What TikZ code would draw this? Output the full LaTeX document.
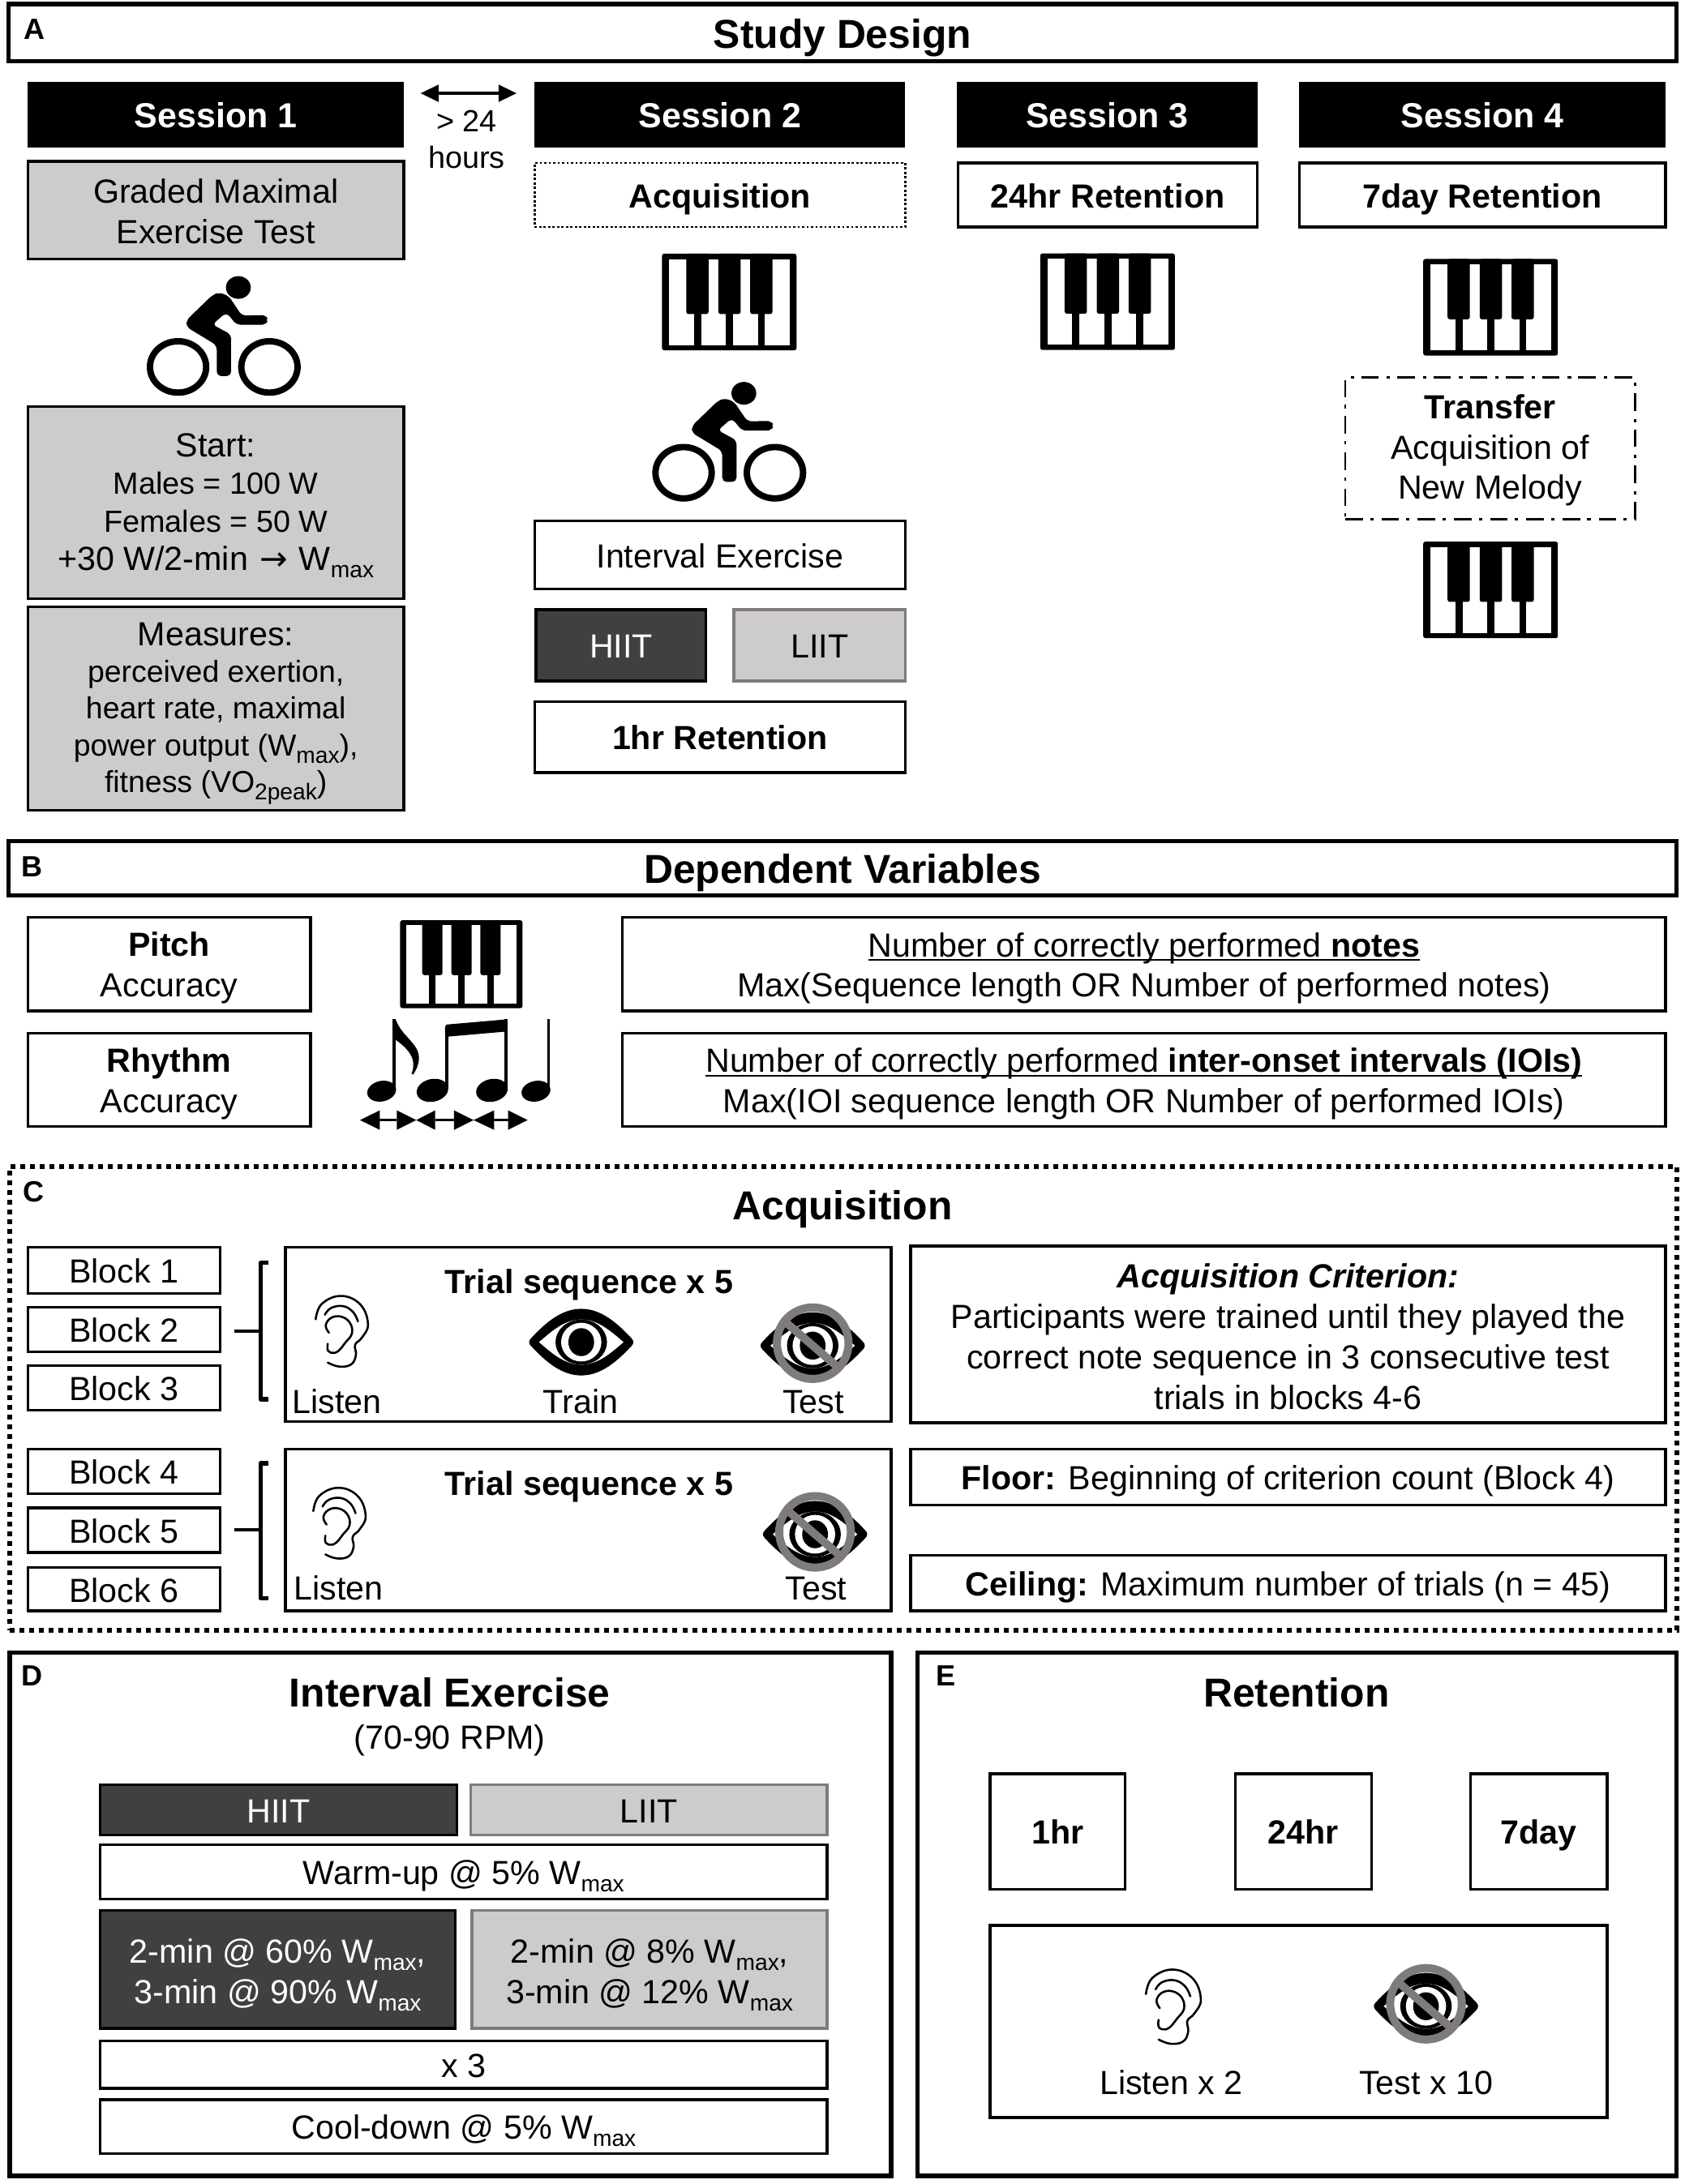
\documentclass[tikz,border=0pt]{standalone}
\usepackage{fontspec}
\setmainfont{Liberation Sans}
\newfontfamily\arrowfont{DejaVu Sans}
\usetikzlibrary{arrows.meta}
\definecolor{lightbox}{HTML}{CDCBCB}
\definecolor{darkbox}{HTML}{404040}
\definecolor{ringgray}{HTML}{7F7B7B}
\newcommand{\fsz}[1]{\fontsize{#1}{14.5}\selectfont}
\newcommand{\lowtxt}[1]{\smash{\raisebox{-2.6pt}{\fontsize{8.2}{8.2}\selectfont #1}}}
\newcommand{\wmax}{W\lowtxt{max}}
\newcommand{\linetop}{\leavevmode\vphantom{Ay}\rule{0pt}{0.967em}}
\newcommand{\lineh}{\leavevmode\vphantom{Ay}}
\newcommand{\mtop}[1]{\rule{0pt}{#1pt}}
\newcommand{\ulin}[1]{\leavevmode\setbox0\hbox{#1}\rlap{\raisebox{-1.5pt}{\rule{\wd0}{0.55pt}}}\box0 }
\newcommand{\bx}[7]{\node[#1, minimum width={(#5-#3)*0.5pt}, minimum height={(#6-#4)*0.5pt}] (#2) at ({(#3+#5)/2},{(#4+#6)/2}) {#7};}
\newcommand{\pianoicon}[3]{\begin{scope}[shift={(#1,#2)},scale=#3]
\fill[rounded corners=0.8pt] (0,0) rectangle (453,325);
\fill[white] (24,18) rectangle (430,308);
\foreach \k in {82,190,297}{\fill[rounded corners=0.8pt] (\k,0) rectangle ({\k+75},203);
\fill ({\k+26},190) rectangle ({\k+50},310);}
\end{scope}}
\newcommand{\bikeicon}[2]{\begin{scope}[shift={(#1,#2)},scale=0.1941]
\draw[line width=2.3pt] (209,398) circle[x radius=104,y radius=95];
\draw[line width=2.3pt] (547,398) circle[x radius=104,y radius=95];
\fill (432,104) circle[x radius=46,y radius=42];
\fill[rounded corners=1.6pt] (360,122) -- (396,135) -- (445,208) -- (535,206) -- (541,224) -- (535,242) -- (425,242) -- (388,196) -- (336,241) -- (405,278) -- (405,432) -- (352,432) -- (352,318) -- (240,250) -- (240,225) -- (335,133) -- cycle;
\end{scope}}
\newcommand{\eyeicon}[2]{\begin{scope}[shift={(#1,#2)},xscale=0.289,yscale=0.193]
\fill (-125,-14) .. controls (-90,-70) and (-50,-124) .. (0,-124) .. controls (50,-124) and (90,-70) .. (125,-14) .. controls (131,-5) and (131,5) .. (125,14) .. controls (90,70) and (50,124) .. (0,124) .. controls (-50,124) and (-90,70) .. (-125,14) .. controls (-131,5) and (-131,-5) .. (-125,-14) -- cycle;
\fill[white] (-105,0) .. controls (-70,-45) and (-40,-84) .. (0,-84) .. controls (40,-84) and (70,-45) .. (105,0) .. controls (70,45) and (40,84) .. (0,84) .. controls (-40,84) and (-70,45) .. (-105,0) -- cycle;
\fill (0,0) circle[x radius=64,y radius=84];
\fill[white] (0,0) circle[x radius=50,y radius=72];
\fill (0,0) circle[x radius=32,y radius=52];
\end{scope}}
\newcommand{\noeyeicon}[2]{\eyeicon{#1}{#2}
\begin{scope}[shift={(#1,#2)},xscale=0.289,yscale=0.193]
\draw[ringgray,line width=2.9pt] (0,-9) circle[x radius=89,y radius=133];
\draw[ringgray,line width=2.9pt] (-68,-88) -- (66,85);
\end{scope}}
\newcommand{\earicon}[3]{\begin{scope}[shift={(#1,#2)},xscale={0.289*#3},yscale={0.193*#3},shift={(-160,-310)},line width=0.75pt,line cap=round]
\draw plot[smooth,tension=.7] coordinates {(97,267) (112,210) (160,180) (208,212) (227,285) (212,335) (195,362) (197,400) (185,435) (155,443) (127,428)};
\draw plot[smooth,tension=.7] coordinates {(120,250) (135,225) (165,218) (190,240) (202,275)};
\draw plot[smooth,tension=.7] coordinates {(130,317) (122,290) (135,262) (160,257) (182,280) (187,320) (170,355) (160,375) (145,392) (128,385) (127,358)};
\end{scope}}
\newcommand{\notesicon}{\begin{scope}[shift={(232.9,640.5)},scale=0.1941]
\fill (212,738) circle[x radius=54,y radius=38,rotate=12];
\fill (252,472) rectangle (264,735);
\fill (264,472) .. controls (285,535) and (350,560) .. (350,615) .. controls (350,640) and (340,660) .. (328,677) -- (323,673) .. controls (335,640) and (338,600) .. (264,548) -- cycle;
\fill (400,735) circle[x radius=59,y radius=42,rotate=12];
\fill (447,500) rectangle (459,730);
\fill (620,735) circle[x radius=59,y radius=42,rotate=12];
\fill (665,472) rectangle (677,730);
\fill[rounded corners=0.8pt] (447,492) -- (677,472) -- (677,517) -- (447,537) -- cycle;
\fill (783,738) circle[x radius=54,y radius=38,rotate=12];
\fill (824,472) rectangle (835,735);
\foreach \a/\b/\c/\d in {132/205/268/340,340/410/480/552,552/628/680/752}{
\fill (\a,845) -- (\b,809) -- (\b,881) -- cycle;
\fill (\d,845) -- (\c,809) -- (\c,881) -- cycle;
\fill (\b,841) rectangle (\c,849);}
\end{scope}}
\begin{document}
\begin{tikzpicture}[x=0.5pt,y=-0.5pt,
 every node/.style={inner sep=0pt,outer sep=0pt,align=center,font=\fsz{12},execute at begin node=\linetop,execute at end node=\lineh},
 panel/.style={draw=black,line width=1.6pt,fill=white},
 plain/.style={draw=black,line width=1pt,fill=white},
 head/.style={fill=black,text=white,font=\fsz{12.5}\bfseries},
 graybox/.style={draw=black,line width=1pt,fill=lightbox},
 darkcell/.style={draw=black,line width=1pt,fill=darkbox,text=white},
 lightcellb/.style={draw=ringgray,line width=1pt,fill=lightbox},
 dottedbox/.style={draw=black,line width=0.8pt,dash pattern=on 0.8pt off 0.8pt},
 dashdotbox/.style={draw=black,line width=0.85pt,dash pattern=on 6.3pt off 2.6pt on 1.2pt off 2.9pt},
 outerdotted/.style={draw=black,line width=1.75pt,dash pattern=on 1.75pt off 1.75pt},
 titletext/.style={font=\fsz{14.5}\bfseries},
 letter/.style={font=\fsz{10.5}\bfseries},
 bracket/.style={line width=1.5pt,line join=round},
 barstub/.style={line width=1.1pt},
 twoway/.style={line width=1pt,{Triangle[length=6.5pt,width=6pt]}-{Triangle[length=6.5pt,width=6pt]}}]
\useasboundingbox (0,0) rectangle (1210,1568.7);
\fill[white] (0,0) rectangle (1210,1568.7);
% ---------- A
\bx{panel,titletext}{headA}{6}{3}{1204}{44}{Study Design}
\node[letter] (letA) at (25,20) {A};
\bx{head}{s1}{20}{59}{290}{106}{Session 1}
\bx{head}{s2}{384}{59}{650}{106}{Session 2}
\bx{head}{s3}{687}{59}{903}{106}{Session 3}
\bx{head}{s4}{933}{59}{1196}{106}{Session 4}
\coordinate (gapL) at (302,67);
\coordinate (gapR) at (371,67);
\draw[twoway] (gapL) -- (gapR);
\node[font=\fontsize{11}{13}\selectfont] (gaptext) at (335,99) {\mtop{10.9}> 24\\hours};
\bx{graybox}{graded}{20}{116}{290}{186}{\mtop{11.7}Graded Maximal\\Exercise Test}
\bikeicon{87.3}{186.3}
\bx{graybox,font=\fsz{11}}{start}{20}{292}{290}{430}{\mtop{10.3}{\fsz{12}Start:}\\[-1pt]Males = 100 W\\[-1pt]Females = 50 W\\[-0.6pt]{\fsz{12}+30 W/2-min\hspace{0.8pt} {\arrowfont→}\hspace{0.8pt} \wmax}}
\bx{graybox,font=\fsz{10.9}}{measures}{20}{436}{290}{582}{\mtop{9.6}{\fsz{12}Measures:}\\[-1.3pt]perceived exertion,\\[-1.3pt]heart rate, maximal\\[-1.3pt]power output (\wmax),\\[-1.3pt]fitness (VO\lowtxt{2peak})}
\bx{dottedbox,font=\fsz{12}\bfseries}{acq}{384}{117}{650}{163}{Acquisition}
\bx{plain,font=\fsz{12}\bfseries}{ret24}{688}{117}{903}{163}{24hr Retention}
\bx{plain,font=\fsz{12}\bfseries}{ret7}{933}{117}{1196}{163}{7day Retention}
\pianoicon{475.3}{182.2}{0.2135}
\bikeicon{450.3}{262.3}
\bx{plain}{interval}{384}{374}{650}{423}{Interval Exercise}
\bx{darkcell}{hiitA}{385}{438}{507}{489}{HIIT}
\bx{lightcellb}{liitA}{527}{438}{650}{489}{LIIT}
\bx{plain,font=\fsz{12}\bfseries}{ret1}{384}{504}{650}{555}{1hr Retention}
\pianoicon{747}{182}{0.2135}
\pianoicon{1022}{186}{0.2135}
\bx{dashdotbox}{transfer}{966}{271}{1174}{373}{\mtop{10.1}\textbf{Transfer}\\Acquisition of\\New Melody}
\pianoicon{1022}{389}{0.2135}
% ---------- B
\bx{panel,titletext}{headB}{6}{604}{1204}{643}{Dependent Variables}
\node[letter] (letB) at (23,622) {B};
\bx{plain}{pitch}{20}{659}{223}{726}{\mtop{11.2}\textbf{Pitch}\\Accuracy}
\bx{plain}{rhythm}{20}{742}{223}{809}{\mtop{11.6}\textbf{Rhythm}\\Accuracy}
\pianoicon{287.3}{661}{0.1941}
\notesicon
\bx{plain}{pitchf}{447}{659}{1196}{726}{\mtop{11.6}\ulin{Number of correctly performed \textbf{notes}}\\Max(Sequence length OR Number of performed notes)}
\bx{plain}{rhythmf}{447}{742}{1196}{809}{\mtop{11.6}\ulin{Number of correctly performed \textbf{inter-onset intervals (IOIs)}}\\Max(IOI sequence length OR Number of performed IOIs)}
% ---------- C
\bx{outerdotted}{panelC}{7}{838}{1204}{1171}{}
\node[letter] (letC) at (24,855) {C};
\node[titletext] (titleC) at (605,865) {Acquisition};
\bx{plain}{b1}{20}{896}{158}{929}{Block 1}
\bx{plain}{b2}{20}{939}{158}{971}{Block 2}
\bx{plain}{b3}{20}{981}{158}{1013}{Block 3}
\bx{plain}{b4}{20}{1041}{158}{1073}{Block 4}
\bx{plain}{b5}{20}{1083}{158}{1115}{Block 5}
\bx{plain}{b6}{20}{1126}{158}{1157}{Block 6}
\coordinate (brA) at (168,956);\coordinate (brAm) at (187,956);
\coordinate (brAt) at (193,907);\coordinate (brAb) at (193,1005);
\draw[barstub] (brA) -- (brAm);
\draw[bracket] (brAt) -- (187,907) -- (187,1005) -- (brAb);
\coordinate (brB) at (168,1099);\coordinate (brBm) at (187,1099);
\coordinate (brBt) at (193,1051);\coordinate (brBb) at (193,1148);
\draw[barstub] (brB) -- (brBm);
\draw[bracket] (brBt) -- (187,1051) -- (187,1148) -- (brBb);
\bx{plain}{trial1}{205}{896}{640}{1021}{}
\bx{plain}{trial2}{205}{1041}{640}{1157}{}
\node[font=\fsz{12}\bfseries] (t1) at (423,920) {Trial sequence x 5};
\node[font=\fsz{12}\bfseries] (t2) at (423,1065) {Trial sequence x 5};
\earicon{244.9}{955.9}{1}
\eyeicon{417.4}{964}
\noeyeicon{583.6}{966.5}
\node (l1) at (242,1006) {Listen};
\node (l2) at (417,1006) {Train};
\node (l3) at (584,1006) {Test};
\earicon{243.2}{1093.7}{1}
\noeyeicon{585.3}{1102}
\node (l4) at (243,1140) {Listen};
\node (l5) at (586,1140) {Test};
\bx{plain}{crit}{654}{895}{1196}{1022}{\rule{0pt}{1.05em}\textbf{\textit{Acquisition Criterion:}}\\Participants were trained until they played the\\correct note sequence in 3 consecutive test\\trials in blocks 4-6}
\bx{plain}{floor}{654}{1041}{1196}{1081}{\textbf{Floor:} Beginning of criterion count (Block 4)}
\bx{plain}{ceil}{654}{1117}{1196}{1157}{\textbf{Ceiling:} Maximum number of trials (n = 45)}
% ---------- D
\bx{panel}{panelD}{7}{1187}{640}{1563}{}
\node[letter] (letD) at (23,1203) {D};
\node[titletext] (titleD) at (323,1215) {Interval Exercise};
\node (rpm) at (323,1247) {(70-90 RPM)};
\bx{darkcell}{hiitD}{72}{1282}{328}{1318}{HIIT}
\bx{lightcellb}{liitD}{338}{1282}{594}{1318}{LIIT}
\bx{plain}{warm}{72}{1325}{594}{1364}{Warm-up @ 5\% \wmax}
\bx{darkcell}{hi}{72}{1372}{327}{1457}{\mtop{12.6}2-min @ 60\% \wmax,\\3-min @ 90\% \wmax}
\bx{lightcellb}{lo}{339}{1372}{594}{1457}{\mtop{12.6}2-min @ 8\% \wmax,\\3-min @ 12\% \wmax}
\bx{plain}{x3}{72}{1466}{594}{1500}{x 3}
\bx{plain}{cool}{72}{1508}{594}{1547}{Cool-down @ 5\% \wmax}
% ---------- E
\bx{panel}{panelE}{659}{1187}{1204}{1563}{}
\node[letter] (letE) at (679,1203) {E};
\node[titletext] (titleE) at (931,1215) {Retention};
\bx{plain,font=\fsz{12}\bfseries}{e1}{711}{1274}{808}{1357}{1hr}
\bx{plain,font=\fsz{12}\bfseries}{e24}{887}{1274}{985}{1357}{24hr}
\bx{plain,font=\fsz{12}\bfseries}{e7}{1056}{1274}{1154}{1357}{7day}
\bx{plain}{ebox}{711}{1383}{1154}{1521}{}
\earicon{842}{1441}{1.05}
\noeyeicon{1024}{1441}
\node (le) at (841,1495) {Listen x 2};
\node (te) at (1024,1495) {Test x 10};
\end{tikzpicture}
\end{document}
